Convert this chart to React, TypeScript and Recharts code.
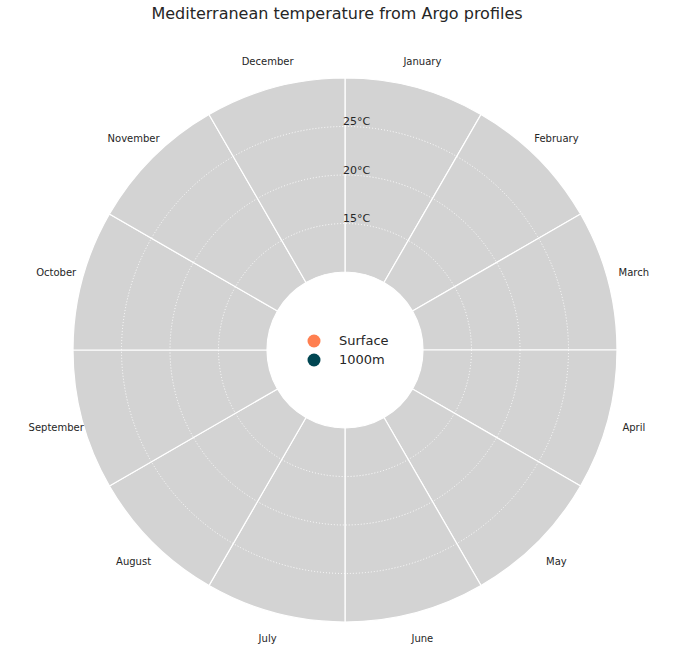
import { PieChart, Pie, RadarChart, Radar, PolarGrid, PolarAngleAxis, PolarRadiusAxis, Legend } from "recharts";

const months = [
  "January", "February", "March", "April", "May", "June",
  "July", "August", "September", "October", "November", "December",
];
const tempTicks = [15, 20, 25];
const tempDomain = [10, 30];
const seriesNames = ["Surface", "1000m"];
const seriesColors = ["#ff7f50", "#004652"];
// the reference draws no values for either series, only their legend entries
const surfaceTemps: (number | null)[] = months.map(() => null);
const deepTemps: (number | null)[] = months.map(() => null);

const sectorRows = months.map((month) => ({ month, share: 1 }));
const axisRows = months.map((month, i) => ({ month, surface: surfaceTemps[i], deep: deepTemps[i] }));

const CX = 345;
const CY = 350;
const INNER = 78;
const OUTER = 272;
const TEXT = "#262626";

function MonthTick(props: any) {
  const { x, y, payload } = props;
  return (
    <text x={x} y={y} textAnchor="middle" dominantBaseline="central" fontSize={10} fill={TEXT}>
      {payload.value}
    </text>
  );
}

function TempTick(props: any) {
  const { x, y, payload } = props;
  return (
    <text x={x - 2} y={y - 1.5} textAnchor="start" fontSize={11} fill={TEXT}>
      {`${payload.value}°C`}
    </text>
  );
}

function CenterLegend() {
  return (
    <div style={{ fontSize: 13, color: TEXT, lineHeight: "19px" }}>
      {seriesNames.map((name, i) => (
        <div key={name} style={{ display: "flex", alignItems: "center" }}>
          <svg width={14} height={14} style={{ marginRight: 18 }}>
            <circle cx={7} cy={7} r={6.5} fill={seriesColors[i]} />
          </svg>
          <span>{name}</span>
        </div>
      ))}
    </div>
  );
}

export default function App() {
  return (
    <div style={{ position: "absolute", left: 0, top: 0, width: 700, height: 657, fontFamily: "'DejaVu Sans', sans-serif", background: "#fff" }}>
      <div style={{ position: "absolute", left: 0, top: 5, width: 674, textAlign: "center", fontSize: 16, lineHeight: "18px", color: TEXT }}>
        Mediterranean temperature from Argo profiles
      </div>
      <div style={{ position: "absolute", left: 0, top: 0 }}>
        <PieChart width={700} height={657} margin={{ top: 0, right: 0, bottom: 0, left: 0 }}>
          <Pie
            data={sectorRows}
            dataKey="share"
            nameKey="month"
            cx={CX}
            cy={CY}
            innerRadius={INNER}
            outerRadius={OUTER}
            startAngle={90}
            endAngle={-270}
            fill="#d3d3d3"
            stroke="#ffffff"
            strokeWidth={1.2}
            isAnimationActive={false}
          />
        </PieChart>
      </div>
      <div style={{ position: "absolute", left: 0, top: 0 }}>
        <RadarChart
          width={700}
          height={657}
          data={axisRows}
          cx={CX}
          cy={CY}
          innerRadius={INNER}
          outerRadius={OUTER}
          startAngle={75}
          endAngle={-285}
          margin={{ top: 0, right: 0, bottom: 0, left: 0 }}
        >
          <PolarGrid gridType="circle" radialLines={false} stroke="#ffffff" strokeDasharray="1 2" />
          <PolarAngleAxis dataKey="month" tickLine={false} axisLine={false} tickSize={27} tick={<MonthTick />} />
          <PolarRadiusAxis
            angle={90}
            type="number"
            domain={tempDomain}
            ticks={tempTicks}
            allowDataOverflow
            axisLine={false}
            tick={<TempTick />}
          />
          <Radar name={seriesNames[0]} dataKey="surface" fill={seriesColors[0]} stroke={seriesColors[0]} hide isAnimationActive={false} />
          <Radar name={seriesNames[1]} dataKey="deep" fill={seriesColors[1]} stroke={seriesColors[1]} hide isAnimationActive={false} />
          <Legend
            content={() => <CenterLegend />}
            wrapperStyle={{ position: "absolute", left: 307, top: 331, width: 100 }}
          />
        </RadarChart>
      </div>
    </div>
  );
}
